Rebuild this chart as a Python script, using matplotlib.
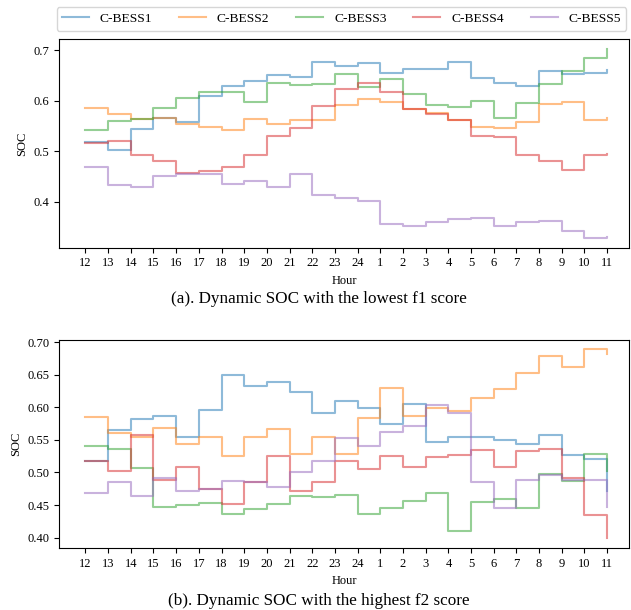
import matplotlib.pyplot as plt

plt.rcParams['font.family'] = ['Liberation Serif', 'DejaVu Serif']

# hour labels, 12 o'clock to 11 o'clock next day
hours = [12, 13, 14, 15, 16, 17, 18, 19, 20, 21, 22, 23, 24, 1, 2, 3, 4, 5, 6, 7, 8, 9, 10, 11]
names = ["C-BESS1", "C-BESS2", "C-BESS3", "C-BESS4", "C-BESS5"]

# (a) lowest f1 score
soc_a1 = [0.519, 0.503, 0.543, 0.566, 0.558, 0.609, 0.629, 0.639, 0.651, 0.647, 0.676, 0.669,
          0.674, 0.654, 0.662, 0.663, 0.676, 0.645, 0.634, 0.629, 0.658, 0.653, 0.654, 0.660]
soc_a2 = [0.586, 0.573, 0.564, 0.566, 0.554, 0.548, 0.541, 0.564, 0.554, 0.562, 0.562, 0.592,
          0.604, 0.598, 0.584, 0.576, 0.561, 0.548, 0.545, 0.558, 0.594, 0.598, 0.562, 0.566]
soc_a3 = [0.541, 0.560, 0.564, 0.586, 0.605, 0.617, 0.617, 0.598, 0.635, 0.631, 0.632, 0.652,
          0.627, 0.642, 0.613, 0.592, 0.587, 0.600, 0.565, 0.595, 0.633, 0.659, 0.684, 0.703]
soc_a4 = [0.517, 0.520, 0.493, 0.480, 0.457, 0.460, 0.469, 0.492, 0.531, 0.545, 0.590, 0.622,
          0.635, 0.617, 0.584, 0.573, 0.561, 0.530, 0.528, 0.493, 0.480, 0.462, 0.492, 0.495]
soc_a5 = [0.469, 0.434, 0.429, 0.450, 0.455, 0.455, 0.435, 0.442, 0.429, 0.454, 0.414, 0.408,
          0.401, 0.357, 0.353, 0.360, 0.365, 0.368, 0.352, 0.360, 0.362, 0.343, 0.328, 0.331]

# (b) highest f2 score
soc_b1 = [0.518, 0.565, 0.582, 0.5865, 0.554, 0.596, 0.649, 0.632, 0.638, 0.624, 0.591, 0.610,
          0.599, 0.575, 0.605, 0.547, 0.555, 0.554, 0.550, 0.544, 0.557, 0.5275, 0.520, 0.472]
soc_b2 = [0.5855, 0.560, 0.555, 0.568, 0.543, 0.555, 0.525, 0.555, 0.566, 0.528, 0.555, 0.528,
          0.583, 0.629, 0.586, 0.599, 0.595, 0.6135, 0.628, 0.6526, 0.679, 0.662, 0.689, 0.682]
soc_b3 = [0.541, 0.536, 0.507, 0.447, 0.450, 0.453, 0.436, 0.4445, 0.452, 0.464, 0.463, 0.465,
          0.4365, 0.445, 0.456, 0.4685, 0.411, 0.454, 0.459, 0.446, 0.498, 0.487, 0.528, 0.503]
soc_b4 = [0.517, 0.503, 0.557, 0.489, 0.508, 0.4745, 0.452, 0.485, 0.525, 0.472, 0.485, 0.517,
          0.506, 0.525, 0.509, 0.524, 0.5275, 0.535, 0.508, 0.5325, 0.5356, 0.491, 0.435, 0.399]
soc_b5 = [0.469, 0.485, 0.464, 0.491, 0.471, 0.4745, 0.487, 0.486, 0.477, 0.501, 0.517, 0.553,
          0.541, 0.5615, 0.572, 0.604, 0.591, 0.486, 0.446, 0.488, 0.496, 0.489, 0.489, 0.4476]

panels = [
    ([soc_a1, soc_a2, soc_a3, soc_a4, soc_a5], "(a). Dynamic SOC with the lowest f1 score"),
    ([soc_b1, soc_b2, soc_b3, soc_b4, soc_b5], "(b). Dynamic SOC with the highest f2 score"),
]

fig = plt.figure(figsize=(6.31, 6.10), dpi=100)
ax_a = fig.add_axes([0.094, 0.594, 0.9024, 0.342])
ax_b = fig.add_axes([0.094, 0.102, 0.9024, 0.341])

x = list(range(len(hours)))
caption_y = [1 - 299 / 610, 1 - 601 / 610]

for i, (ax, (series, caption)) in enumerate(zip([ax_a, ax_b], panels)):
    for name, vals in zip(names, series):
        ax.step(x, vals, where='post', lw=1.5, alpha=0.5, label=name)
    ax.set_xticks(x)
    ax.set_xticklabels([str(h) for h in hours])
    ax.set_xlim(-1.15, 23.95)
    ax.set_xlabel("Hour", fontsize=9)
    ax.set_ylabel("SOC", fontsize=9)
    ax.tick_params(labelsize=9)
    fig.text(0.506, caption_y[i], caption, ha='center', va='center', fontsize=12.3)

handles, labels = ax_a.get_legend_handles_labels()
fig.legend(handles, labels, ncol=5, loc='upper left',
           bbox_to_anchor=(0.079, 0.999), fontsize=9.7)

fig.savefig("out.png", dpi=100)
